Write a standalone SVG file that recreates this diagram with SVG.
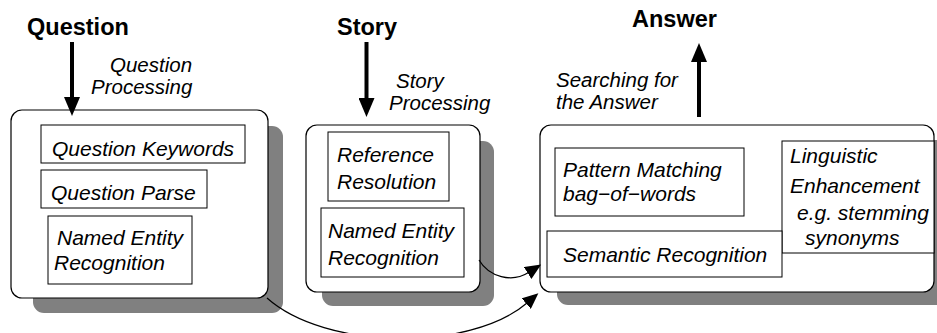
<svg xmlns="http://www.w3.org/2000/svg" width="937" height="333" viewBox="0 0 937 333">
  <defs>
    <style>
      .title { font-family: "Liberation Sans", Arial, sans-serif; font-weight: bold; font-size: 23.5px; fill: #000; }
      .lbl { font-family: "Liberation Sans", Arial, sans-serif; font-style: italic; font-size: 21px; fill: #000; }
      .flowlbl { font-family: "Liberation Sans", Arial, sans-serif; font-style: italic; font-size: 20.5px; fill: #000; }
      .shadow { fill: #808080; stroke: none; }
      .outer { fill: #fff; stroke: #000; stroke-width: 1.2; }
      .inner { fill: #fff; stroke: #000; stroke-width: 1; }
      .flow { fill: none; stroke: #000; stroke-width: 4; }
      .link { fill: none; stroke: #000; stroke-width: 1.2; }
    </style>
    <marker id="bigHead" markerUnits="userSpaceOnUse" viewBox="0 0 19 16" refX="1" refY="8" markerWidth="19" markerHeight="16" orient="auto">
      <path d="M0,0 L19,8 L0,16 Z" fill="#000"/>
    </marker>
    <marker id="smallHead" markerUnits="userSpaceOnUse" viewBox="0 0 16 14" refX="1" refY="7" markerWidth="16" markerHeight="14" orient="auto">
      <path d="M0,0 L16,7 L0,14 Z" fill="#000"/>
    </marker>
  </defs>

  <!-- input / output titles and flow labels -->
  <text class="title" x="27" y="35">Question</text>
  <text class="title" x="337" y="35">Story</text>
  <text class="title" x="632" y="27">Answer</text>

  <text class="flowlbl" x="110" y="72">Question</text>
  <text class="flowlbl" x="91" y="94">Processing</text>
  <text class="flowlbl" x="396" y="88">Story</text>
  <text class="flowlbl" x="389" y="110">Processing</text>
  <text class="flowlbl" x="556" y="87">Searching for</text>
  <text class="flowlbl" x="556" y="109">the Answer</text>

  <!-- question processing module -->
  <g id="question-module">
    <rect class="shadow" x="33" y="126" width="250" height="187" rx="11"/>
    <rect class="outer" x="11" y="110" width="257" height="188" rx="11"/>
    <g id="question-keywords">
      <rect class="inner" x="41" y="125" width="204" height="38"/>
      <text class="lbl" x="52" y="156">Question Keywords</text>
    </g>
    <g id="question-parse">
      <rect class="inner" x="41" y="170" width="166" height="38"/>
      <text class="lbl" x="51" y="200">Question Parse</text>
    </g>
    <g id="question-ner">
      <rect class="inner" x="48" y="216" width="144" height="68"/>
      <text class="lbl" x="57" y="245">Named Entity</text>
      <text class="lbl" x="54" y="270">Recognition</text>
    </g>
  </g>

  <!-- story processing module -->
  <g id="story-module">
    <rect class="shadow" x="322" y="141" width="172" height="165" rx="11"/>
    <rect class="outer" x="306" y="125" width="174" height="167" rx="11"/>
    <g id="reference-resolution">
      <rect class="inner" x="328" y="132" width="121" height="69"/>
      <text class="lbl" x="337" y="162">Reference</text>
      <text class="lbl" x="337" y="189">Resolution</text>
    </g>
    <g id="story-ner">
      <rect class="inner" x="321" y="208" width="143" height="69"/>
      <text class="lbl" x="328" y="238">Named Entity</text>
      <text class="lbl" x="328" y="265">Recognition</text>
    </g>
  </g>

  <!-- answer search module -->
  <g id="answer-module">
    <rect class="shadow" x="557" y="140" width="400" height="165" rx="11"/>
    <rect class="outer" x="540" y="125" width="394" height="167" rx="11"/>
    <g id="pattern-matching">
      <rect class="inner" x="555" y="148" width="189" height="68"/>
      <text class="lbl" x="563" y="177">Pattern Matching</text>
      <text class="lbl" x="563" y="201">bag−of−words</text>
    </g>
    <g id="linguistic-enhancement">
      <rect class="inner" x="782" y="141" width="152" height="112"/>
      <text class="lbl" x="790" y="163">Linguistic</text>
      <text class="lbl" x="790" y="193">Enhancement</text>
      <text class="lbl" x="797" y="220">e.g. stemming</text>
      <text class="lbl" x="805" y="245">synonyms</text>
    </g>
    <g id="semantic-recognition">
      <rect class="inner" x="547" y="231" width="235" height="46"/>
      <text class="lbl" x="563" y="262">Semantic Recognition</text>
    </g>
  </g>

  <!-- connectors -->
  <g id="connectors">
    <line class="flow" x1="72" y1="42" x2="72" y2="98" marker-end="url(#bigHead)"/>
    <line class="flow" x1="366.5" y1="42" x2="366.5" y2="99" marker-end="url(#bigHead)"/>
    <line class="flow" x1="699" y1="117" x2="699" y2="61" marker-end="url(#bigHead)"/>
    <path class="link" d="M479,260 C489,277 512,283 528.5,272.5" marker-end="url(#smallHead)"/>
    <path class="link" d="M267,298 C325,350 470,352 527,303" marker-end="url(#smallHead)"/>
  </g>
</svg>
